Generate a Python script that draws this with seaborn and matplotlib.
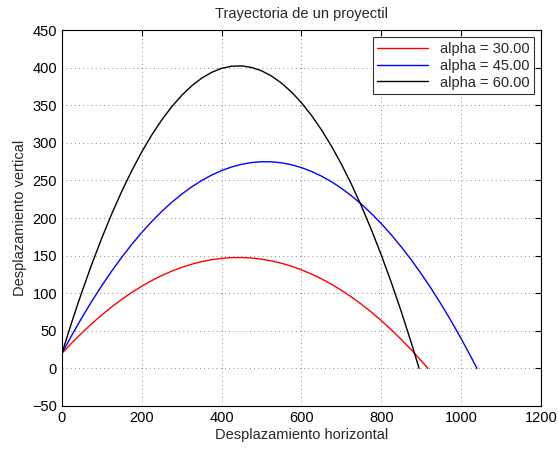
import matplotlib
matplotlib.use("Agg")
import matplotlib.pyplot as plt
import seaborn as sns
import pandas as pd

x30 = [0, 25, 50, 75, 100, 125, 150, 175, 200, 225, 250, 275, 300, 325, 350, 375, 400, 425, 450, 475,
       500, 525, 550, 575, 600, 625, 650, 675, 700, 725, 750, 775, 800, 825, 850, 875, 900, 916.7]
y30 = [20, 34.02, 47.23, 59.63, 71.20, 81.96, 91.89, 101.02, 109.33, 116.82, 123.49, 129.34, 134.38, 138.60,
       142.01, 144.59, 146.36, 147.32, 147.46, 146.77, 145.28, 142.96, 139.83, 135.88, 131.12, 125.53, 119.14,
       111.92, 103.89, 95.03, 85.36, 74.88, 63.58, 51.46, 38.53, 24.77, 10.21, 0]
x45 = [0, 25, 50, 75, 100, 125, 150, 175, 200, 225, 250, 275, 300, 325, 350, 375, 400, 425, 450, 475,
       500, 525, 550, 575, 600, 625, 650, 675, 700, 725, 750, 775, 800, 825, 850, 875, 900, 925, 950, 975,
       1000, 1025, 1039.6]
y45 = [20, 44.39, 67.55, 89.49, 110.20, 129.68, 147.94, 164.98, 180.78, 195.37, 208.73, 220.86, 231.76,
       241.45, 249.90, 257.13, 263.14, 267.92, 271.47, 273.80, 274.90, 274.78, 273.43, 270.86, 267.06, 262.03,
       255.78, 248.31, 239.61, 229.68, 218.53, 206.15, 192.55, 177.72, 161.67, 144.39, 125.88, 106.15, 85.20,
       63.02, 39.61, 14.98, 0]
x60 = [0, 12.5, 25, 37.5, 50, 75, 100, 125, 150, 175, 200, 225, 250, 275, 300, 325, 350, 375, 400, 425,
       450, 475, 500, 525, 550, 575, 600, 625, 650, 675, 700, 725, 750, 775, 800, 825, 850, 875, 894.7]
y60 = [20, 41.34, 62.07, 82.20, 101.70, 138.88, 173.60, 205.87, 235.69, 263.06, 287.98, 310.45, 330.46,
       348.03, 363.15, 375.81, 386.02, 393.78, 399.09, 401.95, 402.36, 400.32, 395.83, 388.89, 379.49, 367.65,
       353.35, 336.60, 317.40, 295.75, 271.66, 245.10, 216.10, 184.64, 150.74, 114.38, 75.57, 34.32, 0]
labels = ["alpha = 30.00", "alpha = 45.00", "alpha = 60.00"]
colors = ["#ff0000", "#0000ff", "#000000"]

frames = []
for xs, ys, lab in zip([x30, x45, x60], [y30, y45, y60], labels):
    frames.append(pd.DataFrame({"x": xs, "y": ys, "serie": lab}))
df = pd.concat(frames, ignore_index=True)

sns.set_style("white")
plt.rcParams['font.family'] = ['Liberation Sans', 'DejaVu Sans']

fig = plt.figure(figsize=(5.58, 4.49), dpi=100)
ax = fig.add_axes([0.111, 0.0958, 0.8585, 0.8372])
sns.lineplot(data=df, x="x", y="y", hue="serie", palette=colors, sort=False,
             estimator=None, linewidth=1.0, ax=ax)

ax.set_xlim(0, 1200)
ax.set_ylim(-50, 450)
ax.set_xticks(range(0, 1201, 200))
ax.set_yticks(range(-50, 451, 50))
ax.set_yticklabels(["\u221250"] + [str(v) for v in range(0, 451, 50)])
ax.grid(True, linestyle=(0, (1, 4)), color="#666666", linewidth=0.6)
ax.tick_params(direction="in", length=4, labelsize=10.5, colors="black", top=True, right=True)
for s in ax.spines.values():
    s.set_color("black")
    s.set_linewidth(0.8)
ax.set_xlabel("Desplazamiento horizontal", fontsize=10.5, labelpad=2)
ax.set_ylabel("Desplazamiento vertical", fontsize=10.5, labelpad=4)
ax.set_title("Trayectoria de un proyectil", fontsize=10.5, pad=9)
leg = ax.legend(loc="upper right", fontsize=10.5, frameon=True, fancybox=False,
                edgecolor="black", handlelength=3.5, borderpad=0.3, labelspacing=0.2)
leg.get_frame().set_linewidth(0.8)
fig.savefig("out.png", dpi=100)
